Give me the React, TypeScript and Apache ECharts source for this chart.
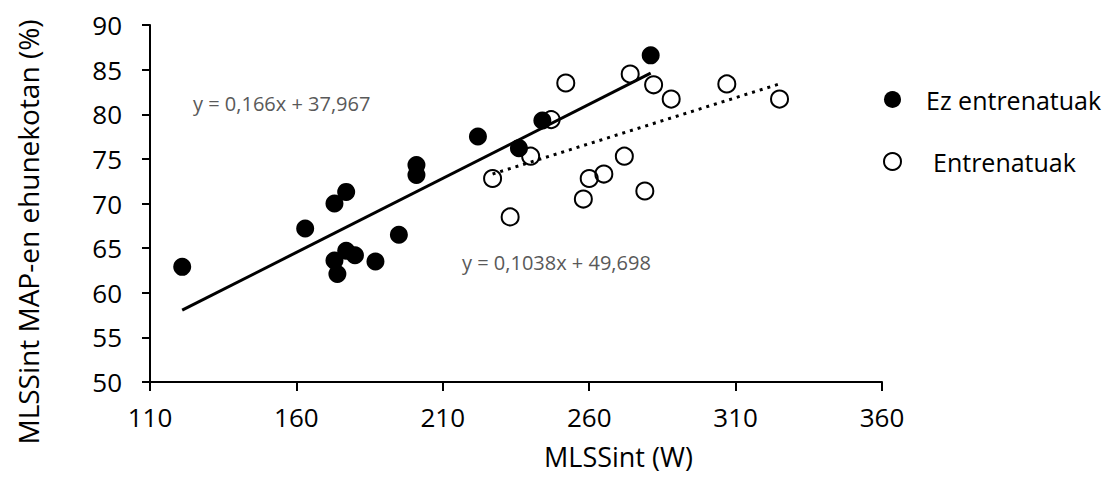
import React, { useEffect, useRef } from "react";
import * as echarts from "echarts";

const FONT = "'Open Sans', 'Noto Sans', sans-serif";

const seriesNames = ["Ez entrenatuak", "Entrenatuak"];

// Ez entrenatuak (filled)
const filledX = [121, 163, 173, 177, 173, 177, 180, 174, 187, 195, 201, 201, 222, 236, 244, 281];
const filledY = [62.9, 67.2, 70.0, 71.3, 63.6, 64.7, 64.2, 62.1, 63.5, 66.5, 74.3, 73.2, 77.5, 76.2, 79.3, 86.6];

// Entrenatuak (open)
const openX = [227, 233, 240, 247, 252, 258, 260, 265, 272, 274, 279, 282, 288, 307, 325];
const openY = [72.8, 68.5, 75.3, 79.4, 83.5, 70.5, 72.8, 73.3, 75.3, 84.5, 71.4, 83.3, 81.7, 83.4, 81.7];

// Trend line end points
const trendFilledX = [121, 281];
const trendFilledY = [58.05, 84.6];
const trendOpenX = [227, 325];
const trendOpenY = [73.3, 83.4];

const eqFilled = "y = 0,166x + 37,967";
const eqOpen = "y = 0,1038x + 49,698";

const xTitle = "MLSSint (W)";
const yTitle = "MLSSint MAP-en ehunekotan (%)";

const zip = (xs: number[], ys: number[]) => xs.map((x, i) => [x, ys[i]]);

export default function App() {
  const ref = useRef<HTMLDivElement>(null);
  useEffect(() => {
    if (!ref.current) return;
    const chart = echarts.init(ref.current, undefined, { renderer: "svg" });
    const axisCommon = {
      type: "value" as const,
      axisLine: { show: true, lineStyle: { color: "#000", width: 2 } },
      axisTick: { show: true, lineStyle: { color: "#000", width: 2 } },
      splitLine: { show: false },
    };
    chart.setOption({
      animation: false,
      backgroundColor: "#fff",
      grid: { left: 150, right: 226, top: 25, bottom: 99, containLabel: false },
      xAxis: {
        ...axisCommon,
        min: 110,
        max: 360,
        interval: 50,
        axisTick: { ...axisCommon.axisTick, length: 9 },
        axisLabel: { fontSize: 26, color: "#000", fontFamily: FONT, margin: 22 },
      },
      yAxis: {
        ...axisCommon,
        min: 50,
        max: 90,
        interval: 5,
        axisTick: { ...axisCommon.axisTick, length: 8 },
        axisLabel: { fontSize: 26, color: "#000", fontFamily: FONT, margin: 28 },
      },
      legend: {
        orient: "vertical",
        left: 878,
        top: 82,
        itemWidth: 17,
        itemHeight: 17,
        itemGap: 37,
        data: [
          { name: seriesNames[0] },
          { name: seriesNames[1], textStyle: { padding: [0, 0, 0, 27] } },
        ],
        textStyle: { fontSize: 25, color: "#000", fontFamily: FONT, padding: [0, 0, 0, 20] },
      },
      graphic: [
        {
          type: "text",
          left: 193,
          top: 93,
          style: { text: eqFilled, fontSize: 20, fill: "#595959", fontFamily: FONT },
        },
        {
          type: "text",
          left: 462,
          top: 252,
          style: { text: eqOpen, fontSize: 20, fill: "#595959", fontFamily: FONT },
        },
        {
          type: "text",
          left: 544,
          top: 443,
          style: { text: xTitle, fontSize: 27, fill: "#000", fontFamily: FONT },
        },
        {
          type: "text",
          x: 28,
          y: 232,
          rotation: Math.PI / 2,
          style: {
            text: yTitle,
            fontSize: 28,
            fill: "#000",
            fontFamily: FONT,
            align: "center",
            verticalAlign: "middle",
          },
        },
      ],
      series: [
        {
          name: seriesNames[0],
          type: "scatter",
          symbol: "circle",
          symbolSize: 18,
          itemStyle: { color: "#000", opacity: 1 },
          data: zip(filledX, filledY),
          z: 2,
        },
        {
          name: seriesNames[1],
          type: "scatter",
          symbol: "circle",
          symbolSize: 17,
          itemStyle: { color: "rgba(255,255,255,0)", borderColor: "#000", borderWidth: 2, opacity: 1 },
          data: zip(openX, openY),
          z: 3,
        },
        {
          name: "trend1",
          type: "line",
          data: zip(trendFilledX, trendFilledY),
          symbol: "none",
          lineStyle: { color: "#000", width: 3 },
          z: 4,
        },
        {
          name: "trend2",
          type: "line",
          data: zip(trendOpenX, trendOpenY),
          symbol: "none",
          lineStyle: { color: "#000", width: 3, type: [3, 5] },
          z: 4,
        },
      ],
    });
    return () => chart.dispose();
  }, []);
  return (
    <div
      ref={ref}
      style={{ position: "fixed", left: 0, top: 0, width: 1108, height: 481 }}
    />
  );
}
